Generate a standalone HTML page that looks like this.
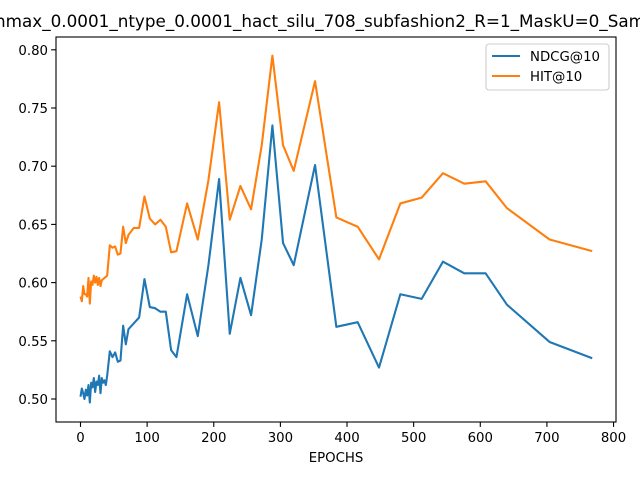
<!DOCTYPE html>
<html><head><meta charset="utf-8"><style>body{margin:0;background:#fff}svg{display:block}text{font-family:"DejaVu Sans","Liberation Sans",sans-serif}</style></head>
<body>
<svg id="chart" width="640" height="480">
<rect width="640" height="480" fill="#fff"/>
<text x="320" y="27" font-size="16.7" text-anchor="middle" textLength="650" lengthAdjust="spacingAndGlyphs">nmax_0.0001_ntype_0.0001_hact_silu_708_subfashion2_R=1_MaskU=0_Sam</text>
<g id="plot"></g>
</svg>
<script>
const epochs=[0,2,4,6,8,10,12,14,16,18,20,22,24,26,28,30,32,34,36,38,40,44,48,52,56,60,64,68,72,80,88,
96,104,112,120,128,136,144,160,176,192,208,224,240,256,272,288,304,320,352,384,416,448,480,512,544,576,608,640,704,768];
const ndcg=[.502,.509,.505,.500,.508,.503,.512,.497,.514,.510,.518,.506,.515,.512,.520,.505,.518,.514,.516,.512,.520,.541,.536,.540,.532,.533,.563,.547,.560,.565,.570,
.603,.579,.578,.575,.575,.542,.536,.590,.554,.615,.689,.556,.604,.572,.637,.735,.634,.615,.701,.562,.566,.527,.590,.586,.618,.608,.608,.581,.549,.535];
const hit=[.588,.584,.597,.590,.590,.588,.604,.582,.601,.598,.606,.600,.605,.598,.604,.597,.602,.603,.604,.605,.606,.632,.630,.631,.624,.625,.648,.634,.641,.647,.647,
.674,.655,.650,.654,.648,.626,.627,.668,.637,.688,.755,.654,.683,.663,.718,.795,.718,.696,.773,.656,.648,.620,.668,.673,.694,.685,.687,.664,.637,.627];
const xTicks=[0,100,200,300,400,500,600,700,800];
const yTicks=[0.50,0.55,0.60,0.65,0.70,0.75,0.80];
const L=56,R=616,T=37,B=422;
const xs=v=>80.5+v*0.6663;
const ys=v=>399-(v-0.5)*1164;
const NS="http://www.w3.org/2000/svg";
const g=document.getElementById('plot');
function mk(t,a){const e=document.createElementNS(NS,t);for(const k in a)e.setAttribute(k,a[k]);g.appendChild(e);return e;}
xTicks.forEach(t=>{
 const l=mk('line',{x1:xs(t),x2:xs(t),y1:B,y2:B+4.9,stroke:'#000','stroke-width':1.1});
 
 
 const tx=mk('text',{x:xs(t),y:B+20,'font-size':13.3,'text-anchor':'middle'});tx.textContent=t;
 
 
});
yTicks.forEach(t=>{
 const l=mk('line',{x1:L-4.9,x2:L,y1:ys(t),y2:ys(t),stroke:'#000','stroke-width':1.1});
 
 
 const tx=mk('text',{x:L-8,y:ys(t)+5,'font-size':13.3,'text-anchor':'end'});tx.textContent=t.toFixed(2);
 
 
});
function line(vals,color,name){
 const p=mk('polyline',{points:epochs.map((e,i)=>xs(e)+','+ys(vals[i])).join(' '),fill:'none',stroke:color,'stroke-width':2.1,'stroke-linejoin':'round'});
 
 
}
line(ndcg,'#1f77b4','ndcg-line');
line(hit,'#ff7f0e','hit-line');
const fr=mk('rect',{x:L,y:T,width:R-L,height:B-T,fill:'none',stroke:'#000','stroke-width':1.1});


const xl=mk('text',{x:(L+R)/2,y:462,'font-size':13.3,'text-anchor':'middle'});xl.textContent='EPOCHS';


const lg=mk('rect',{x:486,y:44,width:123,height:46,rx:3,fill:'#fff',stroke:'#ccc','stroke-width':1.1});


[['NDCG@10','#1f77b4',61],['HIT@10','#ff7f0e',81]].forEach(([n,c,y])=>{
 const l=mk('line',{x1:492,x2:520,y1:y-5,y2:y-5,stroke:c,'stroke-width':2.1});
 
 
 const t=mk('text',{x:530,y:y,'font-size':13.3});t.textContent=n;
 
 
});
</script>
</body></html>
